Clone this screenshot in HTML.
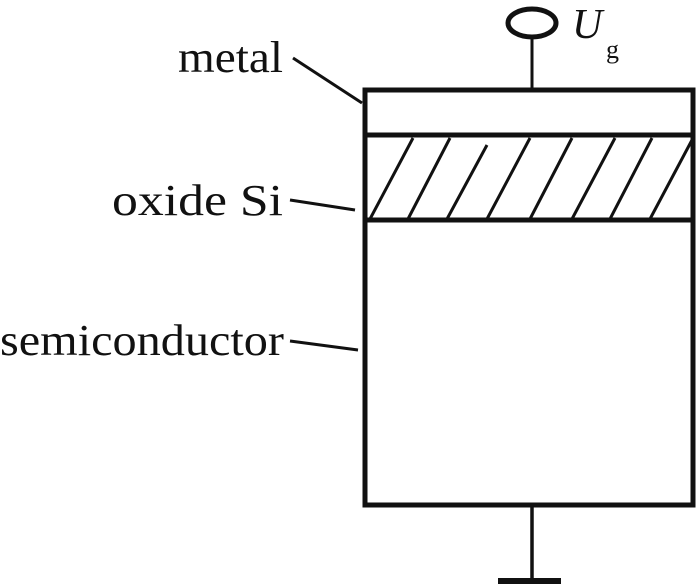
<!DOCTYPE html>
<html><head><style>
html,body{margin:0;padding:0;background:#fff;}
svg{display:block;}
text{font-family:"Liberation Serif",serif;fill:#111;}
</style></head><body>
<svg width="700" height="586" viewBox="0 0 700 586">
<g stroke="#111" fill="none">
<rect x="365" y="90" width="328" height="415" stroke-width="5"/>
<line x1="365" y1="135" x2="693" y2="135" stroke-width="5"/>
<line x1="365" y1="220" x2="693" y2="220" stroke-width="5"/>
<g stroke-width="3">
<line x1="370" y1="219" x2="413" y2="138"/>
<line x1="408" y1="219" x2="450" y2="138"/>
<line x1="447" y1="219" x2="487" y2="145"/>
<line x1="487" y1="219" x2="530" y2="138"/>
<line x1="530" y1="219" x2="572" y2="138"/>
<line x1="572" y1="219" x2="615" y2="138"/>
<line x1="610" y1="219" x2="652" y2="138"/>
<line x1="650" y1="219" x2="692" y2="140"/>
</g>
<ellipse cx="532" cy="23" rx="24" ry="14" stroke-width="5"/>
<line x1="532" y1="37" x2="532" y2="90" stroke-width="3"/>
<line x1="532" y1="505" x2="532" y2="580" stroke-width="3.5"/>
<line x1="498" y1="581" x2="561" y2="581" stroke-width="6"/>
<g stroke-width="3">
<line x1="293" y1="58" x2="362" y2="103"/>
<line x1="290" y1="200" x2="355" y2="210"/>
<line x1="290" y1="341" x2="358" y2="350"/>
</g>
</g>
<text x="178" y="72" font-size="44" textLength="105" lengthAdjust="spacingAndGlyphs">metal</text>
<text x="112" y="215" font-size="44" textLength="171" lengthAdjust="spacingAndGlyphs">oxide Si</text>
<text x="0" y="355" font-size="44" textLength="284" lengthAdjust="spacingAndGlyphs">semiconductor</text>
<text x="572" y="38" font-size="42" font-style="italic">U</text>
<text x="606" y="58" font-size="26">g</text>
</svg>
</body></html>
